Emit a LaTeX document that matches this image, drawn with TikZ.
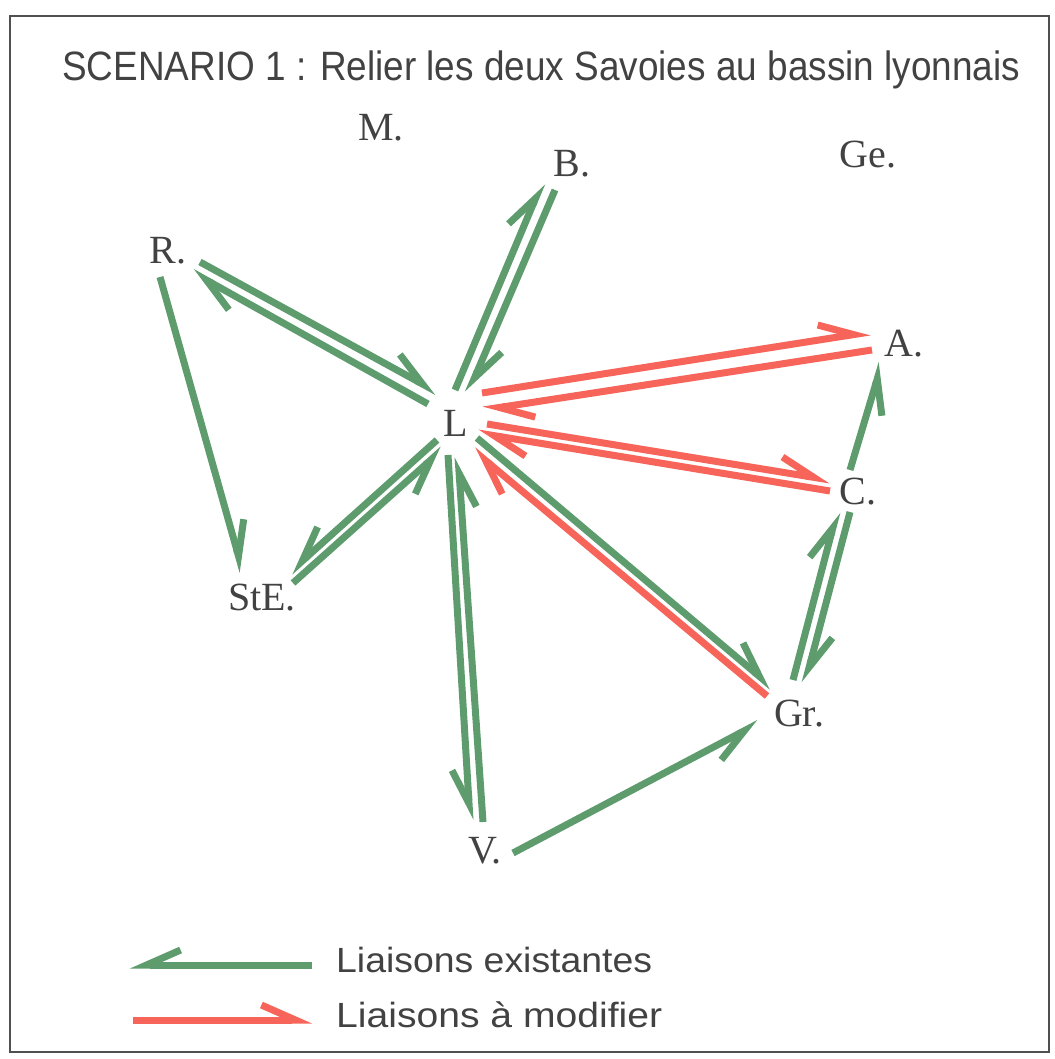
\documentclass[tikz,border=0pt]{standalone}
\usepackage{fontspec}
\setmainfont{Liberation Serif}
\newfontfamily\titlefont{Liberation Sans}
\usetikzlibrary{arrows.meta,calc}
\definecolor{lgreen}{RGB}{94,156,110}
\definecolor{lred}{RGB}{246,100,90}
\definecolor{txt}{RGB}{66,66,66}
\definecolor{frame}{RGB}{80,80,80}
\begin{document}
\begin{tikzpicture}[x=1pt,y=-1pt,
  lbl/.style={inner sep=0pt, text=txt, font=\fontsize{40}{44}\selectfont},
  gl/.style={draw=lgreen, line width=7pt},
  rl/.style={draw=lred, line width=7pt},
  hl/.style={-{Straight Barb[left,length=34pt,width=30pt]}},
  hr/.style={-{Straight Barb[right,length=34pt,width=30pt]}}]
\useasboundingbox (0,0) rectangle (1054,1059);
\draw[frame, line width=1.6pt] (10,16) rectangle (1049,1052);
% title
\node[anchor=base west, inner sep=0pt, text=txt] (title) at (62,81)
  {\resizebox{958pt}{\height}{\titlefont\fontsize{41}{44}\selectfont SCENARIO 1 : Relier les deux Savoies au bassin lyonnais}};
% cities
\node[lbl] (M)   at (381,128) {M.};
\node[lbl] (B)   at (572,164) {B.};
\node[lbl] (Ge)  at (868,155) {Ge.};
\node[lbl] (R)   at (168,251) {R.};
\node[lbl] (L)   at (456,423) {L};
\node[lbl] (A)   at (904,344) {A.};
\node[lbl] (C)   at (858,492) {C.};
\node[lbl] (StE) at (262,598) {StE.};
\node[lbl] (Gr)  at (799,714) {Gr.};
\node[lbl] (V)   at (485,851) {V.};
% R - L
\draw[gl,hl] ($(R)+(32,11)$) -- ($(L)+(-19,-31)$);
\draw[gl,hl] ($(L)+(-28,-19)$) -- ($(R)+(24,21)$);
% L - B
\draw[gl,hl] ($(L)+(-1,-33)$) -- ($(B)+(-30,19)$);
\draw[gl,hl] ($(B)+(-17,26)$) -- ($(L)+(12,-30)$);
% L - A
\draw[rl,hl] ($(L)+(26,-30)$) -- ($(A)+(-34,-12)$);
\draw[rl,hl] ($(A)+(-32,6)$) -- ($(L)+(27,-13)$);
% L - C
\draw[rl,hl] ($(L)+(31,1)$) -- ($(C)+(-28,-12)$);
\draw[rl,hl] ($(C)+(-28,-1)$) -- ($(L)+(22,10)$);
% L - Gr
\draw[gl,hl] ($(L)+(21,15)$) -- ($(Gr)+(-27,-27)$);
\draw[rl,hl] ($(Gr)+(-32,-18)$) -- ($(L)+(17,27)$);
% L - StE
\draw[gl,hr] ($(L)+(-19,17)$) -- ($(StE)+(28,-26)$);
\draw[gl,hr] ($(StE)+(31,-15)$) -- ($(L)+(-13,26)$);
% L - V
\draw[gl,hr] ($(L)+(-8,32)$) -- ($(V)+(-15,-31)$);
\draw[gl,hr] ($(V)+(-2,-29)$) -- ($(L)+(2,34)$);
% others
\draw[gl,hl] ($(R)+(-8,26)$) -- ($(StE)+(-19,-26)$);
\draw[gl,hr] ($(V)+(28,2)$) -- ($(Gr)+(-40,9)$);
\draw[gl,hr] ($(C)+(-8,-22)$) -- ($(A)+(-22,19)$);
\draw[gl,hl] ($(Gr)+(-6,-34)$) -- ($(C)+(-21,20)$);
\draw[gl,hl] ($(C)+(-8,20)$) -- ($(Gr)+(6,-31)$);
% legend
\node[anchor=base west, inner sep=0pt, text=txt] (leg1) at (336,972)
  {\resizebox{316pt}{\height}{\titlefont\fontsize{35}{38}\selectfont Liaisons existantes}};
\node[anchor=base west, inner sep=0pt, text=txt] (leg2) at (336,1027)
  {\resizebox{326pt}{\height}{\titlefont\fontsize{35}{38}\selectfont Liaisons à modifier}};
\draw[gl,hr] ($(leg1.base west)+(-24,-7)$) -- ($(leg1.base west)+(-206,-7)$);
\draw[rl,hl] ($(leg2.base west)+(-203,-7)$) -- ($(leg2.base west)+(-24,-7)$);
\end{tikzpicture}
\end{document}
